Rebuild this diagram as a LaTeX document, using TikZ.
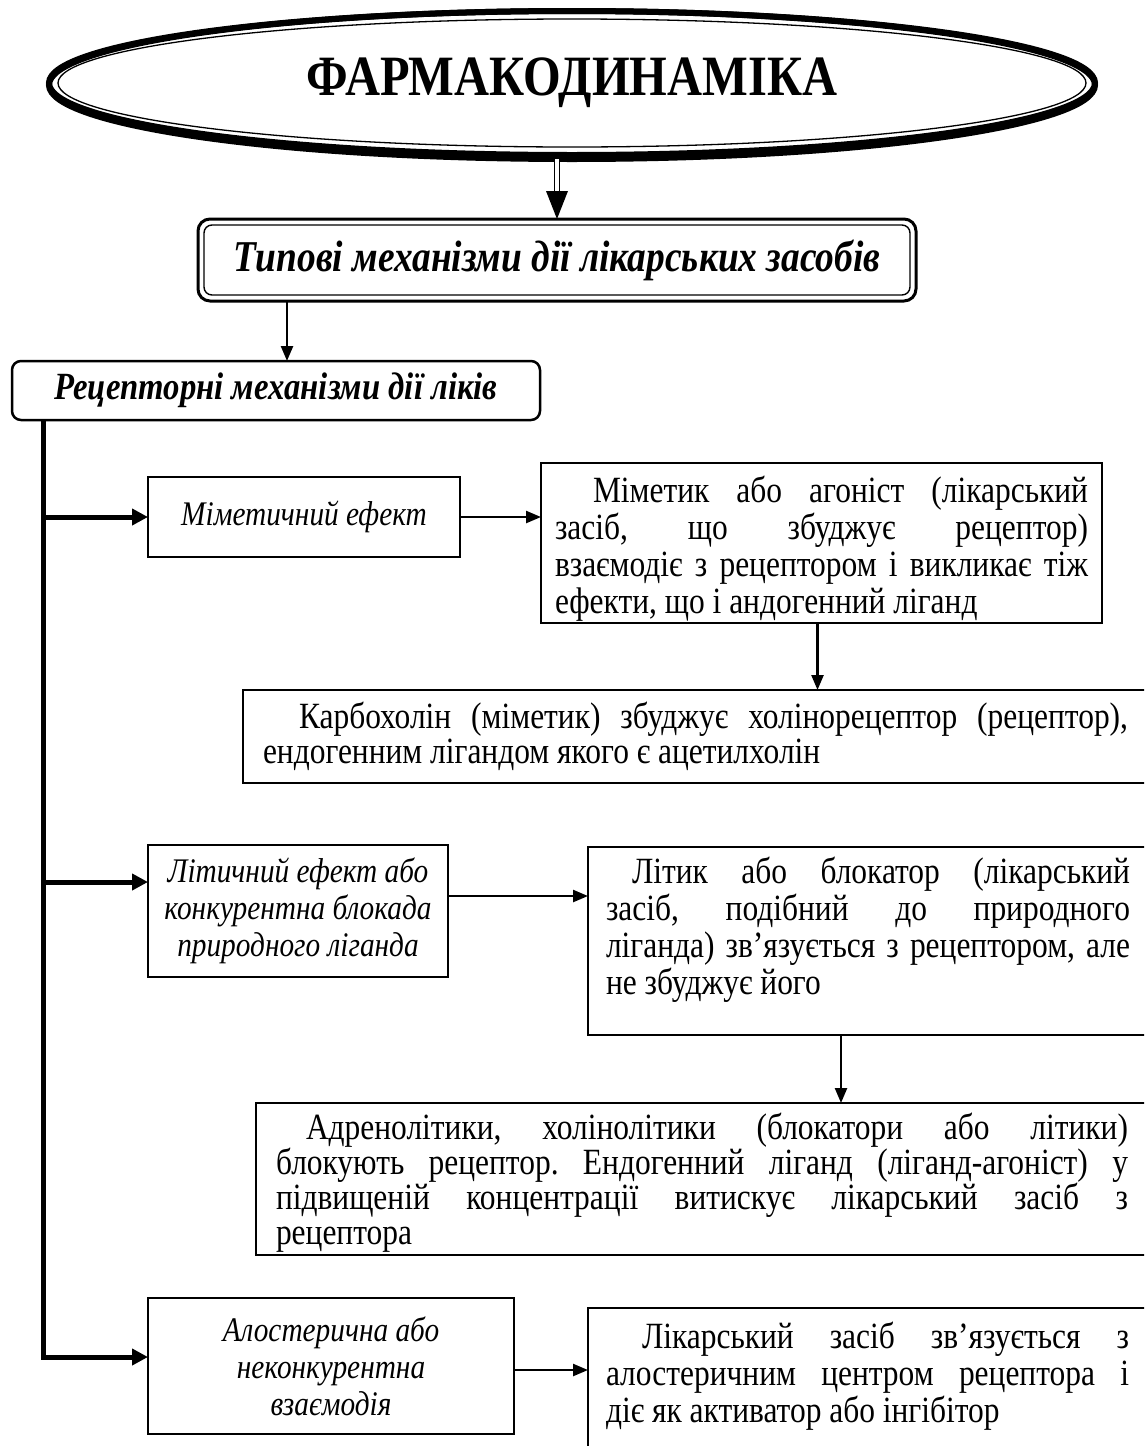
\documentclass[tikz,border=0pt]{standalone}
\usepackage{fontspec}
\setmainfont{Liberation Serif}[FakeStretch=0.85]
\usetikzlibrary{arrows.meta,shapes.geometric}

% paragraph settings for the justified explanation boxes
\newcommand\noteparams{\frenchspacing\hyphenpenalty=10000\relax\exhyphenpenalty=10000\relax\tolerance=10000\relax}

\tikzset{
  trunkarrow/.style={line width=5pt, line join=miter, -{Triangle[length=16pt,width=16pt]}},
  linkarrow/.style={line width=2.4pt, -{Triangle[length=15pt,width=12pt]}},
  effectbox/.style={draw, line width=2pt, anchor=north west, inner sep=0pt,
    align=center, font=\fontsize{34.5}{37}\selectfont\itshape},
  notebox/.style={draw, line width=2pt, anchor=north west, inner ysep=0pt,
    align=justify},
}

\begin{document}
\begin{tikzpicture}[x=1pt, y=-1pt, every node/.append style={outer sep=0pt}]
\useasboundingbox[fill=white] (0,0) rectangle (1144,1446);
\clip (0,0) rectangle (1144,1446);

% title: heavy outer ring with a thin inner ring
\node[ellipse, draw, line width=6pt, minimum width=1046pt, minimum height=144pt, inner sep=0pt,
      font=\fontsize{57}{60}\selectfont\bfseries] (ell) at (572,83) {ФАРМАКОДИНАМІКА};
\draw[line width=6pt] ([yshift=-2pt]ell.center) ellipse [x radius=523pt, y radius=74pt];
\draw[line width=1.3pt] (ell.center) ellipse [x radius=514pt, y radius=64pt];

% double-framed heading
\node[draw, line width=3pt, rounded corners=12pt, anchor=north west, minimum width=718pt,
      minimum height=82pt, inner sep=0pt, font=\fontsize{44}{48}\selectfont\bfseries\itshape]
      (typ) at (198,219) {Типові механізми дії лікарських засобів};
\draw[line width=1.4pt, rounded corners=8pt] ([shift={(6pt,-6pt)}]typ.north west) rectangle ([shift={(-6pt,6pt)}]typ.south east);

\draw[line width=1.3pt, double distance=3.5pt, shorten <=4pt, shorten >=26pt] (typ.north |- ell.south) -- (typ.north);
\fill (typ.north) -- ++(-11pt,28pt) -- ++(22pt,0pt) -- cycle;

% receptor mechanisms
\node[draw, line width=2.5pt, rounded corners=9pt, anchor=north west, minimum width=528pt,
      minimum height=59pt, inner sep=0pt, font=\fontsize{38.5}{40}\selectfont\bfseries\itshape]
      (rec) at (12,361) {Рецепторні механізми дії ліків};
\coordinate (recin) at ([xshift=11pt]rec.north);
\draw[linkarrow] (recin |- typ.south) -- (recin);

% kinds of effect
\node[effectbox, minimum width=312pt, minimum height=80pt] (mim) at (148,477) {Міметичний ефект};
\node[effectbox, minimum width=300pt, minimum height=132pt] (lit) at (148,845)
  {Літичний ефект або\\конкурентна блокада\\природного ліганда};
\node[effectbox, minimum width=366pt, minimum height=136pt] (alo) at (148,1298)
  {Алостерична або\\неконкурентна\\взаємодія};

% explanations
\node[notebox, inner xsep=14pt, text width=533pt, text height=39pt, text depth=121pt,
      font=\fontsize{37}{37}\selectfont] (mimd) at (541,463)
  {\noteparams\hspace*{38pt}Міметик або агоніст (лікарський\linebreak засіб, що збуджує рецептор)\linebreak взаємодіє з рецептором і викликає тіж\linebreak ефекти, що і андогенний ліганд};
\node[notebox, inner xsep=20pt, text width=865pt, text height=38pt, text depth=55pt,
      font=\fontsize{37}{35}\selectfont] (karb) at (243,690)
  {\noteparams\hspace*{36pt}Карбохолін (міметик) збуджує холінорецептор (рецептор),\linebreak ендогенним лігандом якого є ацетилхолін};
\node[notebox, inner xsep=18pt, text width=524pt, text height=36pt, text depth=152pt,
      font=\fontsize{37}{37}\selectfont] (litd) at (588,847)
  {\noteparams\hspace*{26pt}Літик або блокатор (лікарський\linebreak засіб, подібний до природного\linebreak ліганда) зв’язується з рецептором, але\linebreak не збуджує його};
\node[notebox, inner xsep=20pt, text width=852pt, text height=36pt, text depth=116pt,
      font=\fontsize{37}{35}\selectfont] (adr) at (256,1103)
  {\noteparams\hspace*{30pt}Адренолітики, холінолітики (блокатори або літики)\linebreak блокують рецептор. Ендогенний ліганд (ліганд-агоніст) у\linebreak підвищеній концентрації витискує лікарський засіб з\linebreak рецептора};
\node[notebox, inner xsep=18pt, text width=523pt, text height=40pt, text depth=130pt,
      font=\fontsize{37}{37}\selectfont] (alod) at (588,1308)
  {\noteparams\hspace*{36pt}Лікарський засіб зв’язується з\linebreak алостеричним центром рецептора і\linebreak діє як активатор або інгібітор};

% trunk with branches
\coordinate (tr) at ([xshift=31pt]rec.south west);
\coordinate (litin) at ([yshift=29pt]lit.west);
\coordinate (aloin) at ([yshift=9pt]alo.west);
\draw[trunkarrow] (tr) |- (aloin);
\draw[trunkarrow] (tr |- mim.west) -- (mim.west);
\draw[trunkarrow] (tr |- litin) -- (litin);

% links to explanations
\draw[linkarrow] (mim.east) -- (mim.east -| mimd.west);
\coordinate (litout) at ([yshift=15pt]lit.east);
\draw[linkarrow] (litout) -- (litout -| litd.west);
\coordinate (aloout) at ([yshift=-4pt]alo.east);
\draw[linkarrow] (aloout) -- (aloout -| alod.west);
\coordinate (mimdown) at ([xshift=-4pt]mimd.south);
\draw[linkarrow] (mimdown) -- (mimdown |- karb.north);
\coordinate (litdown) at ([xshift=-27pt]litd.south);
\draw[linkarrow] (litdown) -- (litdown |- adr.north);
\end{tikzpicture}
\end{document}
